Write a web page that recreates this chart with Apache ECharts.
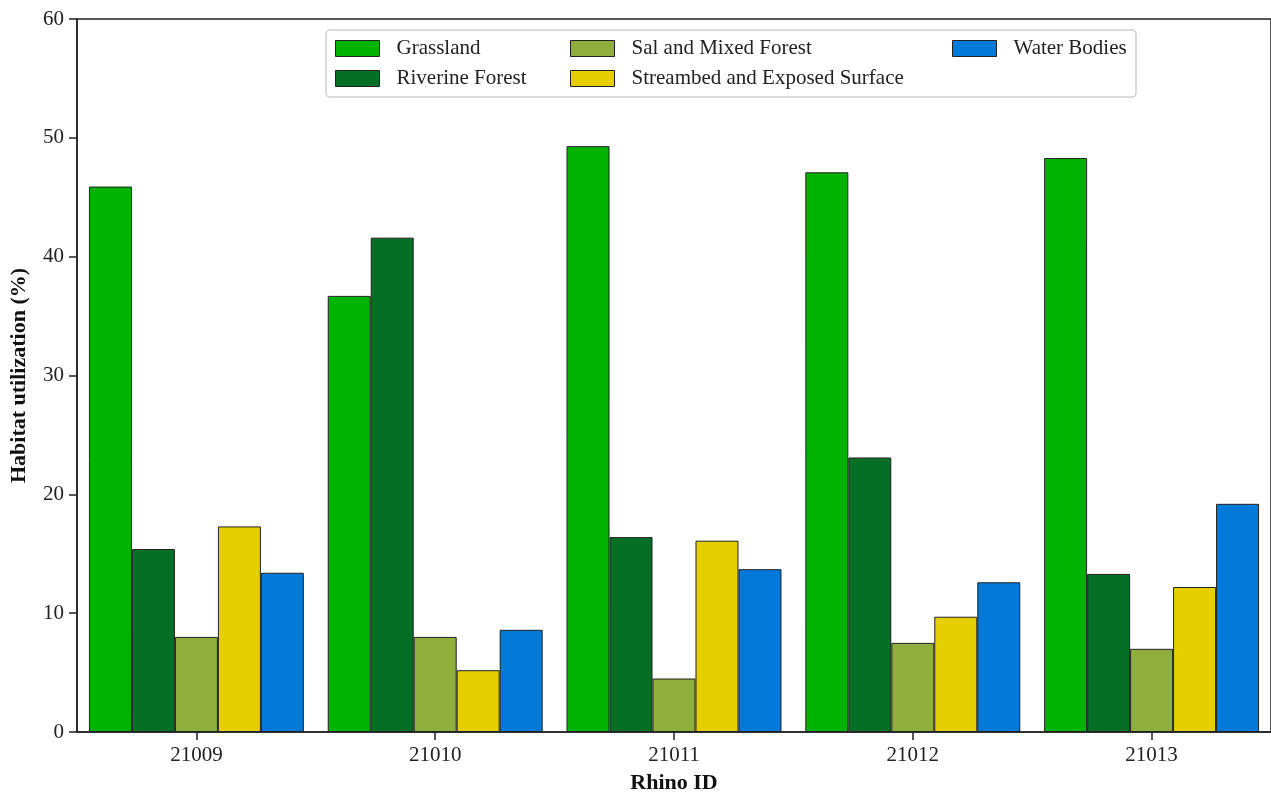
<!DOCTYPE html>
<html>
<head>
<meta charset="utf-8">
<title>Habitat utilization by rhino</title>
<script src="https://cdn.jsdelivr.net/npm/echarts@6/dist/echarts.min.js"></script>
<style>
  html, body { margin: 0; padding: 0; background: #fff; }
  #chart { width: 1271px; height: 793px; }
</style>
</head>
<body>
<div id="chart"></div>
<script>
// Rhino IDs along the x axis
const rhinoIds = ['21009', '21010', '21011', '21012', '21013'];

// Habitat utilization (%) per habitat class, one value per rhino
const grassland = [45.9, 36.7, 49.3, 47.1, 48.3];
const riverineForest = [15.4, 41.6, 16.4, 23.1, 13.3];
const salMixedForest = [8.0, 8.0, 4.5, 7.5, 7.0];
const streambedExposed = [17.3, 5.2, 16.1, 9.7, 12.2];
const waterBodies = [13.4, 8.6, 13.7, 12.6, 19.2];

// y axis ticks
const yTicks = [0, 10, 20, 30, 40, 50, 60];

const habitats = [
  { name: 'Grassland', values: grassland, color: '#00b300' },
  { name: 'Riverine Forest', values: riverineForest, color: '#046f25' },
  { name: 'Sal and Mixed Forest', values: salMixedForest, color: '#8fae3c' },
  { name: 'Streambed and Exposed Surface', values: streambedExposed, color: '#e6cf00' },
  { name: 'Water Bodies', values: waterBodies, color: '#0079d9' }
];

const FONT = "'Liberation Serif', 'Times New Roman', serif";
const INK = '#222';

const chart = echarts.init(document.getElementById('chart'), null, { renderer: 'canvas' });

function legendColumn(names, left) {
  return {
    orient: 'vertical',
    left: left,
    top: 38,
    padding: 0,
    itemWidth: 44,
    itemHeight: 16,
    itemGap: 9,
    icon: 'rect',
    selectedMode: false,
    data: names,
    itemStyle: { borderColor: INK, borderWidth: 1 },
    textStyle: {
      fontFamily: FONT,
      fontSize: 21,
      color: '#222',
      padding: [0, 0, 0, 12]
    }
  };
}

chart.setOption({
  backgroundColor: '#fff',
  animation: false,
  textStyle: { fontFamily: FONT },
  grid: {
    left: 77,
    top: 19,
    width: 1194,
    height: 713,
    outerBoundsMode: 'none',
    containLabel: false,
    show: true,
    borderColor: INK,
    borderWidth: 1.5,
    backgroundColor: 'transparent'
  },
  graphic: [{
    type: 'rect',
    z: 1,
    shape: { x: 326, y: 30, width: 810, height: 67, r: 4 },
    style: { fill: '#fff', stroke: '#cfcfcf', lineWidth: 1.5 }
  }],
  legend: [
    legendColumn(['Grassland', 'Riverine Forest'], 335),
    legendColumn(['Sal and Mixed Forest', 'Streambed and Exposed Surface'], 570),
    legendColumn(['Water Bodies'], 952)
  ],
  xAxis: {
    type: 'category',
    data: rhinoIds,
    name: 'Rhino ID',
    nameLocation: 'middle',
    nameGap: 40,
    nameTextStyle: { fontFamily: FONT, fontSize: 22, fontWeight: 'bold', color: '#111' },
    axisLine: { show: true, lineStyle: { color: INK, width: 1.5 } },
    axisTick: { show: true, alignWithLabel: true, length: 8, lineStyle: { color: INK, width: 1.5 } },
    axisLabel: { fontFamily: FONT, fontSize: 21, color: '#222', margin: 13 },
    splitLine: { show: false }
  },
  yAxis: {
    type: 'value',
    min: yTicks[0],
    max: yTicks[yTicks.length - 1],
    interval: yTicks[1] - yTicks[0],
    name: 'Habitat utilization (%)',
    nameLocation: 'middle',
    nameGap: 47,
    nameTextStyle: { fontFamily: FONT, fontSize: 22, fontWeight: 'bold', color: '#111' },
    axisLine: { show: true, lineStyle: { color: INK, width: 1.5 } },
    axisTick: { show: true, length: 8, lineStyle: { color: INK, width: 1.5 } },
    axisLabel: { fontFamily: FONT, fontSize: 21, color: '#222', margin: 13 },
    splitLine: { show: false }
  },
  series: habitats.map(h => ({
    name: h.name,
    type: 'bar',
    data: h.values,
    barGap: '0%',
    barCategoryGap: '10%',
    itemStyle: { color: h.color, borderColor: INK, borderWidth: 1 },
    emphasis: { disabled: true }
  }))
});
</script>
</body>
</html>
